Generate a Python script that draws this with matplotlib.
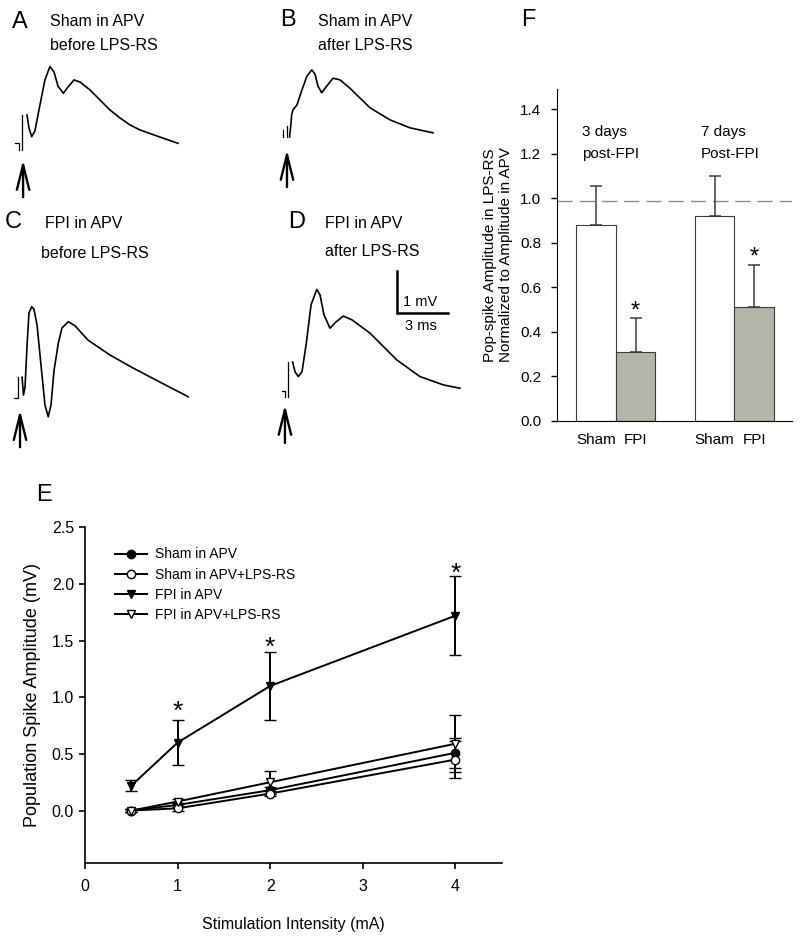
import numpy as np
import matplotlib
matplotlib.use('Agg')
import matplotlib.pyplot as plt

plt.rcParams['font.family'] = ['Liberation Sans', 'DejaVu Sans']

W, H = 800, 938
MS_PX = 17.2   # pixels per ms in the trace panels
MV_PX = 41.7   # pixels per mV in the trace panels

# ---- example traces (ms, mV) ----
a_art = [([0, 0.23, 0.23], [0.17, 0.17, 0]), ([0.41, 0.41], [0.84, 0])]
a_t = [0.70, 0.81, 0.97, 1.16, 1.45, 1.74, 2.03, 2.27, 2.50, 2.81, 3.08, 3.43, 3.78, 4.36, 4.94, 5.52, 6.10, 6.69, 7.27, 8.43, 9.48]
a_v = [0.84, 0.53, 0.32, 0.46, 1.08, 1.68, 2.00, 1.87, 1.53, 1.36, 1.51, 1.68, 1.63, 1.44, 1.20, 0.96, 0.77, 0.60, 0.48, 0.31, 0.16]

b_art = [([0.04, 0.04], [0.17, 0]), ([0.27, 0.27], [0.26, 0])]
b_t = [0.44, 0.52, 0.56, 0.64, 0.87, 1.16, 1.45, 1.73, 1.92, 2.09, 2.31, 2.56, 2.97, 3.37, 3.95, 5.12, 6.28, 7.44, 8.78]
b_v = [0.0, 0.31, 0.53, 0.65, 0.77, 1.13, 1.46, 1.61, 1.51, 1.22, 1.06, 1.20, 1.41, 1.37, 1.17, 0.70, 0.41, 0.22, 0.10]

c_art = [([0, 0.25, 0.25], [0, 0, 0.50])]
c_t = [0.47, 0.55, 0.64, 0.76, 0.87, 1.03, 1.16, 1.34, 1.57, 1.80, 1.99, 2.15, 2.33, 2.58, 2.79, 3.16, 3.55, 4.30, 5.58, 6.92, 8.49, 10.13]
c_v = [0.50, 0.07, 0.26, 1.27, 2.04, 2.19, 2.13, 1.75, 0.79, -0.17, -0.45, -0.17, 0.67, 1.32, 1.68, 1.83, 1.73, 1.39, 1.03, 0.72, 0.38, 0.03]

d_art = [([0, 0.17, 0.17], [0.14, 0.14, 0]), ([0.37, 0.37], [0.84, 0])]
d_t = [0.62, 0.76, 0.95, 1.16, 1.40, 1.69, 2.02, 2.21, 2.44, 2.79, 3.14, 3.56, 4.07, 5.12, 6.67, 8.02, 9.38, 10.35]
d_v = [0.84, 0.60, 0.49, 0.60, 1.25, 2.21, 2.58, 2.45, 1.97, 1.65, 1.80, 1.94, 1.85, 1.53, 0.89, 0.49, 0.29, 0.21]

# stimulus arrows (t, v_tail, v_head)
arrow_a = (0.47, -1.13, -0.24)
arrow_b = (0.29, -1.20, -0.31)
arrow_c = (0.35, -1.18, -0.29)
arrow_d = (0.17, -1.10, -0.19)

# ---- panel E ----
intensity = [0.5, 1, 2, 4]
sham_apv = [0.0, 0.05, 0.18, 0.51]
sham_apv_err = [0.01, 0.02, 0.03, 0.13]
sham_lps = [0.0, 0.02, 0.15, 0.45]
sham_lps_err = [0.01, 0.02, 0.02, 0.16]
fpi_apv = [0.22, 0.60, 1.10, 1.72]
fpi_apv_err = [0.05, 0.20, 0.30, 0.35]
fpi_lps = [0.0, 0.08, 0.25, 0.59]
fpi_lps_err = [0.01, 0.02, 0.10, 0.25]
e_labels = ['Sham in APV', 'Sham in APV+LPS-RS', 'FPI in APV', 'FPI in APV+LPS-RS']

# ---- panel F ----
f_groups = ['3 days\npost-FPI', '7 days\nPost-FPI']
f_ticks = ['Sham', 'FPI', 'Sham', 'FPI']
f_vals = [0.88, 0.31, 0.92, 0.51]
f_err = [0.175, 0.15, 0.18, 0.19]

fig = plt.figure(figsize=(W / 100, H / 100), dpi=100)


def trace_axes(x0, y0, left=12, right=190, up=130, down=60):
    ax = fig.add_axes([(x0 - left) / W, 1 - (y0 + down) / H, (left + right) / W, (up + down) / H])
    ax.set_xlim(-left / MS_PX, right / MS_PX)
    ax.set_ylim(-down / MV_PX, up / MV_PX)
    ax.set_axis_off()
    return ax


def draw_trace(ax, art, t, v, arrow):
    for st, sv in art:
        ax.plot(st, sv, color='k', lw=0.9)
    ax.plot(t, v, color='k', lw=1.2)
    ax.annotate('', xy=(arrow[0], arrow[2]), xytext=(arrow[0], arrow[1]),
                arrowprops=dict(arrowstyle='->, head_length=1.8, head_width=0.45',
                                lw=1.7, color='k', shrinkA=0, shrinkB=0))


def ftext(x, y, s, **kw):
    fig.text(x / W, 1 - y / H, s, **kw)


ax_a = trace_axes(15, 150)
draw_trace(ax_a, a_art, a_t, a_v, arrow_a)
ax_b = trace_axes(282, 137)
draw_trace(ax_b, b_art, b_t, b_v, arrow_b)
ax_c = trace_axes(14, 398)
draw_trace(ax_c, c_art, c_t, c_v, arrow_c)
ax_d = trace_axes(282, 397)
draw_trace(ax_d, d_art, d_t, d_v, arrow_d)

# scale bar in panel D
ax_d.plot([6.67, 6.67, 9.67], [3.01, 2.01, 2.01], color='k', lw=1.8, solid_joinstyle='miter')
ax_d.text(7.05, 2.28, '1 mV', fontsize=10.5, va='center', ha='left')
ax_d.text(8.05, 1.70, '3 ms', fontsize=10.5, va='center', ha='center')

# panel letters and captions
for lx, ly, s in [(20, 22, 'A'), (288, 20, 'B'), (13, 222, 'C'), (297, 222, 'D'), (528, 20, 'F'), (44, 495, 'E')]:
    ftext(lx, ly, s, fontsize=17, ha='center', va='center')
for lx, ly, s in [(50, 22, 'Sham in APV'), (50, 46, 'before LPS-RS'),
                  (318, 22, 'Sham in APV'), (318, 46, 'after LPS-RS'),
                  (45, 223, 'FPI in APV'), (41, 253, 'before LPS-RS'),
                  (325, 223, 'FPI in APV'), (325, 252, 'after LPS-RS')]:
    ftext(lx, ly, s, fontsize=11.5, ha='left', va='center')

# ---- panel E ----
ax_e = fig.add_axes([85 / W, 1 - 862.7 / H, 416.7 / W, 335.4 / H])
styles = [('o', 'k'), ('o', 'white'), ('v', 'k'), ('v', 'white')]
series = [(sham_apv, sham_apv_err), (sham_lps, sham_lps_err), (fpi_apv, fpi_apv_err), (fpi_lps, fpi_lps_err)]
for (vals, err), (mk, fc), lab in zip(series, styles, e_labels):
    ax_e.errorbar(intensity, vals, yerr=err, color='k', lw=1.4, elinewidth=1.4, capsize=4.5, capthick=1.4,
                  marker=mk, markersize=6, markerfacecolor=fc, markeredgecolor='k', markeredgewidth=1, label=lab)
for xi, yi in zip(intensity[1:], [0.87, 1.44, 2.09]):
    ax_e.text(xi, yi, '*', fontsize=19, ha='center', va='center')
ax_e.set_xlim(0, 4.5)
ax_e.set_ylim(-0.46, 2.5)
ax_e.set_xticks([0, 1, 2, 3, 4])
ax_e.set_yticks([0, 0.5, 1.0, 1.5, 2.0, 2.5])
ax_e.set_yticklabels(['%.1f' % v for v in [0, 0.5, 1.0, 1.5, 2.0, 2.5]])
ax_e.tick_params(labelsize=11.5, length=4.5, width=1.2, direction='out')
ax_e.tick_params(axis='x', pad=7)
for sp in ['top', 'right']:
    ax_e.spines[sp].set_visible(False)
for sp in ['left', 'bottom']:
    ax_e.spines[sp].set_linewidth(1.2)
ax_e.set_ylabel('Population Spike Amplitude (mV)', fontsize=13, labelpad=8)
ax_e.set_xlabel('Stimulation Intensity (mA)', fontsize=11.5, labelpad=17)
handles, labels = ax_e.get_legend_handles_labels()
handles = [h[0] for h in handles]
ax_e.legend(handles, labels, loc='upper left', bbox_to_anchor=(0.072, 0.94), frameon=False, fontsize=10,
            handlelength=2.3, handletextpad=0.6, labelspacing=0.45, borderpad=0, borderaxespad=0)

# ---- panel F ----
ax_f = fig.add_axes([556.5 / W, 1 - 420.7 / H, 235.2 / W, 331.4 / H])
f_pos = [1, 2, 4, 5]
f_colors = ['white', '#b4b4a8', 'white', '#b4b4a8']
ax_f.bar(f_pos, f_vals, width=1.0, color=f_colors, edgecolor='#3a3a3a', linewidth=0.8, zorder=2)
ax_f.errorbar(f_pos, f_vals, yerr=[[0] * 4, f_err], fmt='none', ecolor='#3a3a3a', elinewidth=1.1,
              capsize=4.5, capthick=1.1, zorder=3)
ax_f.axhline(0.99, color='#8c8c8c', lw=1.0, dashes=(11, 5), zorder=1)
ax_f.text(2, 0.49, '*', fontsize=17, ha='center', va='center')
ax_f.text(5, 0.735, '*', fontsize=17, ha='center', va='center')
for gx, g in zip([0.64, 3.66], f_groups):
    ax_f.text(gx, 1.25, g, fontsize=11, ha='left', va='center', linespacing=1.75)
ax_f.set_xlim(0, 5.95)
ax_f.set_ylim(0, 1.49)
ax_f.set_yticks(np.arange(0, 1.41, 0.2))
ax_f.set_yticklabels(['%.1f' % v for v in np.arange(0, 1.41, 0.2)])
ax_f.set_xticks(f_pos)
ax_f.set_xticklabels(f_ticks)
ax_f.tick_params(axis='y', labelsize=11, length=4, width=1, direction='out', pad=7)
ax_f.tick_params(axis='x', labelsize=11, length=0, pad=9)
for sp in ['top', 'right']:
    ax_f.spines[sp].set_visible(False)
ax_f.set_ylabel('Pop-spike Amplitude in LPS-RS\nNormalized to Amplitude in APV', fontsize=11, labelpad=5)

fig.savefig('out.png', dpi=100)
